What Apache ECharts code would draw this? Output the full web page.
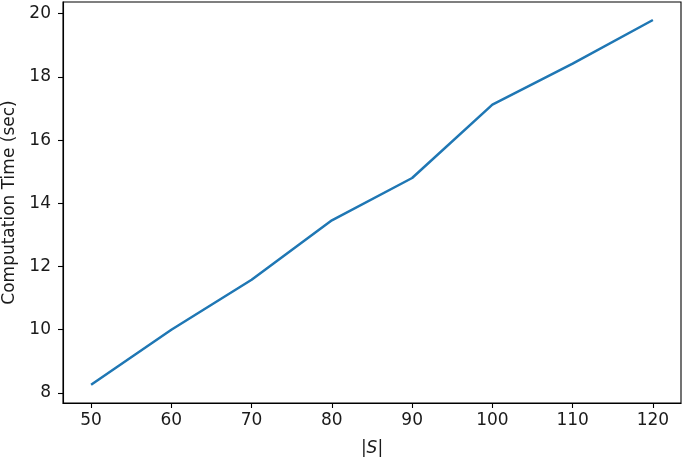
<!DOCTYPE html>
<html>
<head>
<meta charset="utf-8">
<script src="https://cdn.jsdelivr.net/npm/echarts@6/dist/echarts.min.js"></script>
<style>
html,body{margin:0;padding:0;background:#fff;}
#chart{width:685px;height:462px;}
</style>
</head>
<body>
<div id="chart"></div>
<script>
const sizes = [50, 60, 70, 80, 90, 100, 110, 120];
const times = [8.26, 10.0, 11.58, 13.46, 14.8, 17.12, 18.42, 19.8];
const xTicks = [50, 60, 70, 80, 90, 100, 110, 120];
const yTicks = [8, 10, 12, 14, 16, 18, 20];
const xTitle = '|{i|S}|';
const yTitle = 'Computation Time (sec)';

const font = 'DejaVu Sans';
const txt = '#1a1a1a';
const fs = 17;
const chart = echarts.init(document.getElementById('chart'), null, {renderer: 'canvas'});
chart.setOption({
  animation: false,
  backgroundColor: '#fff',
  grid: {left: 63, top: 2, right: 4, bottom: 59, show: true, borderColor: '#000', borderWidth: 1.1,
         containLabel: false, outerBoundsMode: 'none'},
  xAxis: {
    type: 'value', min: 46.5, max: 123.5,
    name: xTitle, nameLocation: 'middle', nameGap: 37,
    nameTextStyle: {fontFamily: font, fontSize: fs, color: txt,
      rich: {i: {fontFamily: font, fontSize: fs, fontStyle: 'italic', color: txt}}},
    axisLine: {show: true, lineStyle: {color: '#000', width: 1.1}},
    axisTick: {show: true, length: 5, lineStyle: {color: '#000', width: 1.1}, customValues: xTicks},
    axisLabel: {fontFamily: font, fontSize: fs, color: txt, margin: 9, customValues: xTicks},
    splitLine: {show: false}
  },
  yAxis: {
    type: 'value', min: 7.68, max: 20.37,
    name: yTitle, nameLocation: 'middle', nameGap: 45,
    nameTextStyle: {fontFamily: font, fontSize: fs, color: txt},
    axisLine: {show: true, lineStyle: {color: '#000', width: 1.1}},
    axisTick: {show: true, length: 5, lineStyle: {color: '#000', width: 1.1}, customValues: yTicks},
    axisLabel: {fontFamily: font, fontSize: fs, color: txt, margin: 12, customValues: yTicks},
    splitLine: {show: false}
  },
  series: [{
    type: 'line',
    data: sizes.map((s, i) => [s, times[i]]),
    showSymbol: false,
    lineStyle: {color: '#1f77b4', width: 2.5},
    itemStyle: {color: '#1f77b4'}
  }]
});
</script>
</body>
</html>
